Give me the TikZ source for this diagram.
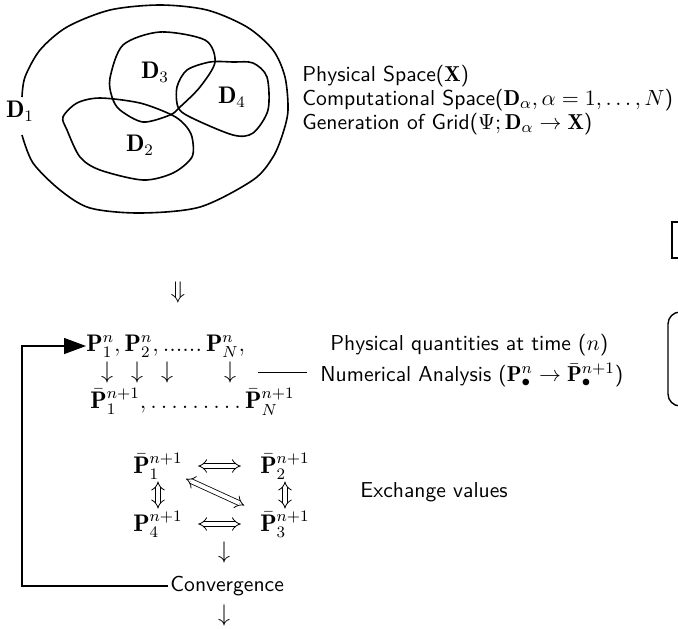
\documentclass[tikz,border=0pt]{standalone}
\usepackage{amsmath}
\usepackage{fontspec}
\usetikzlibrary{arrows.meta}

\begin{document}
\begin{tikzpicture}[x=0.5pt,y=-0.5pt,
txt/.style={anchor=west,font=\fontsize{10.8}{13}\sffamily,inner sep=1pt},
mth/.style={font=\fontsize{12}{14}\selectfont},
lbl/.style={mth,inner sep=0pt},
blob/.style={line width=0.8pt},
qty/.style={mth,inner sep=0.5pt},
glyph/.style={mth,inner sep=0pt},
xchg/.style={double,double distance=2pt,{Implies}-{Implies},shorten <=9pt,shorten >=9pt},
back/.style={line width=0.7pt,-{Triangle[length=11pt,width=8pt]}}]
\useasboundingbox (0,0) rectangle (678,628);
% domains
\draw[blob] plot[smooth] coordinates {(22,97) (25,77) (40,50) (67,27) (110,10) (160,5) (207,10) (247,27) (273,50) (285,77) (288,110) (283,133) (273,157) (253,180) (200,207) (140,213) (90,208) (60,190) (33,163) (22,135)};
\draw[blob] plot[smooth cycle] coordinates {(110,78) (123,45) (160,32) (205,40) (215,62) (200,87) (180,107) (170,115) (143,122) (120,110) (112,97)};
\draw[blob] plot[smooth cycle] coordinates {(177,87) (187,70) (210,62) (233,62) (253,63) (267,77) (268,110) (253,133) (233,135) (190,117) (178,107)};
\draw[blob] plot[smooth cycle] coordinates {(100,98) (140,103) (172,115) (185,125) (192,137) (192,157) (173,173) (143,180) (100,170) (80,157) (67,130) (63,117) (77,103)};
\node[lbl] (dOne) at (20,111) {$\mathbf{D}_1$};
\node[lbl] (dTwo) at (140,145) {$\mathbf{D}_2$};
\node[lbl] (dThree) at (155,72) {$\mathbf{D}_3$};
\node[lbl] (dFour) at (232,97) {$\mathbf{D}_4$};
\node[txt] (physp) at (300,76) {Physical Space($\mathbf{X}$)};
\node[txt] (compsp) at (300,100) {Computational Space($\mathbf{D}_\alpha, \alpha = 1,\ldots,N$)};
\node[txt] (gridgen) at (300,124) {Generation of Grid($\Psi;\mathbf{D}_\alpha\rightarrow\mathbf{X}$)};
\node[glyph] (dn) at (178,292) {$\Downarrow$};
% time step
\node[mth,anchor=west,inner sep=0pt] (prow) at (86,346) {$\mathbf{P}^n_1, \mathbf{P}^n_2,$\,......\,$\mathbf{P}^n_N,$};
\foreach \x [count=\i] in {107,137,167,230}
  \node[glyph] (dw\i) at (\x,372) {$\downarrow$};
\node[txt] (physq) at (328,345) {Physical quantities at time ($n$)};
\node[txt] (numan) at (318,375) {Numerical Analysis ($\mathbf{P}^n_\bullet \rightarrow \bar{\mathbf{P}}^{n+1}_\bullet$)};
\draw[shorten <=11pt,shorten >=5.5pt] (dw4) -- (dw4 -| numan.west);
\node[mth,anchor=west,inner sep=0pt] (brow) at (90,402) {$\bar{\mathbf{P}}^{n+1}_1, \ldots\ldots\ldots \bar{\mathbf{P}}^{n+1}_N$};
% exchange
\node[qty] (q1) at (158,466) {$\bar{\mathbf{P}}^{n+1}_1$};
\node[qty] (q2) at (285,466) {$\bar{\mathbf{P}}^{n+1}_2$};
\node[qty] (q3) at (285,524) {$\bar{\mathbf{P}}^{n+1}_3$};
\node[qty] (q4) at (158,524) {$\mathbf{P}^{n+1}_4$};
\draw[xchg,shorten <=7pt,shorten >=9pt] (q1) -- (q2);
\draw[xchg,shorten <=7pt,shorten >=9pt] (q4) -- (q3);
\draw[xchg,shorten <=0.5pt,shorten >=0.5pt] (q1) -- (q4);
\draw[xchg,shorten <=0.5pt,shorten >=0.5pt] (q2) -- (q3);
\draw[xchg,shorten <=1pt,shorten >=8pt] (q1) -- (q3);
\node[txt] (exch) at (358,492) {Exchange values};
\node[glyph] (dc) at (224,552) {$\downarrow$};
\node[txt] (conv) at (168,586) {Convergence};
\node[glyph] (dout) at (224,615) {$\downarrow$};
\coordinate (loopx) at (22,586);
\draw[back] (conv.west) -- (loopx) |- (prow.west);
% cut-off frames at the right edge
\draw[line width=0.7pt] (678,222) -- (672,222) -- (672,258) -- (678,258);
\draw[line width=0.7pt,rounded corners=6pt] (678,312) -- (668,312) -- (668,406) -- (678,406);
\end{tikzpicture}
\end{document}
